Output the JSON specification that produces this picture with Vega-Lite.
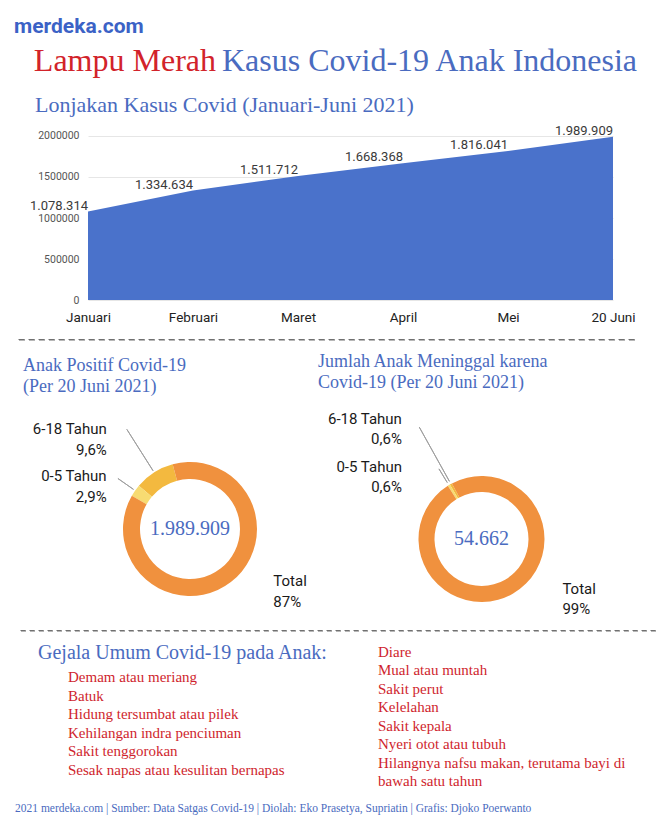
{
  "$schema": "https://vega.github.io/schema/vega-lite/v6.json",
  "background": "white",
  "padding": 0,
  "spacing": 0,
  "config": {
    "view": {"stroke": null},
    "title": {"fontWeight": "normal", "baseline": "alphabetic", "frame": "group"}
  },
  "title": {
    "text": "2021 merdeka.com | Sumber: Data Satgas Covid-19 | Diolah: Eko Prasetya, Supriatin | Grafis: Djoko Poerwanto",
    "orient": "bottom", "anchor": "start", "dx": 15, "offset": 3,
    "font": "Liberation Serif", "fontSize": 11.5, "color": "#4A6BC0"
  },
  "vconcat": [
    {
      "hconcat": [
        {"width": 222, "height": 118,
         "title": {"text": "Lampu Merah", "anchor": "end", "dx": -6, "offset": -78, "font": "Liberation Serif", "fontSize": 32, "color": "#D2232A"},
         "data": {"values": []}, "mark": "point"},
        {"width": 446, "height": 118,
         "title": {"text": "Kasus Covid-19 Anak Indonesia", "anchor": "start", "offset": -78, "font": "Liberation Serif", "fontSize": 32, "color": "#4A6BC0"},
         "data": {"values": []}, "mark": "point"},
        {"width": 1, "height": 118,
         "title": {"text": "merdeka.com", "anchor": "start", "dx": -654, "offset": -37, "font": "Roboto", "fontSize": 21, "fontWeight": "bold", "color": "#3B62C6"},
         "data": {"values": []}, "mark": "point"},
        {"width": 1, "height": 118,
         "title": {"text": "Lonjakan Kasus Covid (Januari-Juni 2021)", "anchor": "start", "dx": -634, "offset": -117, "font": "Liberation Serif", "fontSize": 22, "color": "#4A6BC0"},
         "data": {"values": []}, "mark": "point"}
      ],
      "spacing": 0, "bounds": "flush"
    },
    {
      "hconcat": [
        {"width": 88, "height": 220, "data": {"values": []}, "mark": "point"},
        {
          "width": 525, "height": 182,
          "data": {"values": [
            {"bulan": "Januari", "kasus": 1078314, "label": "1.078.314"},
            {"bulan": "Februari", "kasus": 1334634, "label": "1.334.634"},
            {"bulan": "Maret", "kasus": 1511712, "label": "1.511.712"},
            {"bulan": "April", "kasus": 1668368, "label": "1.668.368"},
            {"bulan": "Mei", "kasus": 1816041, "label": "1.816.041"},
            {"bulan": "20 Juni", "kasus": 1989909, "label": "1.989.909"}
          ]},
          "encoding": {
            "x": {"field": "bulan", "type": "ordinal", "sort": null, "scale": {"type": "point", "padding": 0},
                  "axis": {"title": null, "labelAngle": 0, "ticks": false, "domain": false, "grid": false, "labelFont": "Roboto", "labelFontSize": 13.5, "labelColor": "#222222", "labelPadding": 10}},
            "y": {"field": "kasus", "type": "quantitative", "scale": {"domain": [0, 2219512], "nice": false},
                  "axis": {"title": null, "values": [0, 500000, 1000000, 1500000, 2000000], "format": "d", "ticks": false, "domain": false, "grid": true, "gridColor": "#E6E6E6", "labelFont": "Roboto", "labelFontSize": 10.5, "labelColor": "#555555", "labelPadding": 9}}
          },
          "layer": [
            {"mark": {"type": "area", "color": "#4A72CB", "opacity": 1}},
            {"mark": {"type": "text", "align": "right", "baseline": "alphabetic", "dy": -2, "font": "Roboto", "fontSize": 13, "color": "#3A3A3A"},
             "encoding": {"text": {"field": "label"}}}
          ]
        }
      ],
      "spacing": 0, "bounds": "flush"
    },
    {
      "hconcat": [
        {"width": 18, "height": 73,
         "title": {"text": ["Anak Positif Covid-19", "(Per 20 Juni 2021)"], "anchor": "start", "dx": 23, "offset": -56.5, "font": "Liberation Serif", "fontSize": 18, "lineHeight": 20.5, "color": "#4A6BC0"},
         "data": {"values": []}, "mark": "point"},
        {"width": 618, "height": 0.5, "view": {"stroke": "#707070", "strokeDash": [6, 4], "strokeWidth": 1},
         "title": {"text": ["Jumlah Anak Meninggal karena", "Covid-19 (Per 20 Juni 2021)"], "anchor": "start", "dx": 300, "offset": -52.5, "font": "Liberation Serif", "fontSize": 18, "lineHeight": 20.5, "color": "#4A6BC0"},
         "data": {"values": []}, "mark": "point"}
      ],
      "spacing": 0, "bounds": "flush"
    },
    {
      "hconcat": [
        {
          "width": 380, "height": 140,
          "data": {"values": [
            {"kat": "6-18 Tahun", "persen": 9.6, "urut": 1, "label": "6-18 Tahun\n9,6%"},
            {"kat": "0-5 Tahun", "persen": 2.9, "urut": 2, "label": "0-5 Tahun\n2,9%"},
            {"kat": "Total", "persen": 87, "urut": 3, "label": "Total\n87%"}
          ]},
          "layer": [
            {"mark": {"type": "arc", "outerRadius": 67, "innerRadius": 50},
             "encoding": {
               "theta": {"field": "persen", "type": "quantitative", "stack": true, "scale": {"range": [-0.2618, -6.5450]}},
               "order": {"field": "urut", "type": "quantitative"},
               "color": {"field": "kat", "type": "nominal", "scale": {"domain": ["Total", "0-5 Tahun", "6-18 Tahun"], "range": ["#F0913E", "#F7DB72", "#F3B93F"]}, "legend": null}}},
            {"transform": [{"filter": "datum.kat === '6-18 Tahun'"}],
             "mark": {"type": "arc", "innerRadius": 69, "outerRadius": 118, "padAngle": 3.1416, "fillOpacity": 0, "stroke": "#A0A0A0", "strokeWidth": 1},
             "encoding": {
               "theta": {"field": "persen", "type": "quantitative", "stack": true},
               "order": {"field": "urut", "type": "quantitative"}}},
            {"transform": [{"filter": "datum.kat !== 'Total'"}],
             "mark": {"type": "arc", "innerRadius": 69, "outerRadius": 88, "padAngle": 3.1416, "fillOpacity": 0, "stroke": "#A0A0A0", "strokeWidth": 1},
             "encoding": {
               "theta": {"field": "persen", "type": "quantitative", "stack": true},
               "order": {"field": "urut", "type": "quantitative"},
               "strokeOpacity": {"condition": {"test": "datum.kat === '0-5 Tahun'", "value": 1}, "value": 0}}},
            {"transform": [{"filter": "datum.kat === '6-18 Tahun'"}],
             "mark": {"type": "text", "radius": 118, "align": "right", "baseline": "middle", "dx": -20, "lineBreak": "\n", "lineHeight": 21, "font": "Roboto", "fontSize": 15, "color": "#1A1A1A"},
             "encoding": {
               "theta": {"field": "persen", "type": "quantitative", "stack": true},
               "order": {"field": "urut", "type": "quantitative"},
               "text": {"field": "label"}}},
            {"transform": [{"filter": "datum.kat !== 'Total'"}],
             "mark": {"type": "text", "radius": 92, "align": "right", "baseline": "middle", "dx": -8, "lineBreak": "\n", "lineHeight": 21, "font": "Roboto", "fontSize": 15, "color": "#1A1A1A"},
             "encoding": {
               "theta": {"field": "persen", "type": "quantitative", "stack": true},
               "order": {"field": "urut", "type": "quantitative"},
               "text": {"condition": {"test": "datum.kat === '0-5 Tahun'", "field": "label", "type": "nominal"}, "value": ""}}},
            {"mark": {"type": "text", "radius": 66, "align": "left", "baseline": "middle", "dx": 43, "lineBreak": "\n", "lineHeight": 21, "font": "Roboto", "fontSize": 15, "color": "#1A1A1A"},
             "encoding": {
               "theta": {"field": "persen", "type": "quantitative", "stack": true},
               "order": {"field": "urut", "type": "quantitative"},
               "text": {"condition": {"test": "datum.kat === 'Total'", "field": "label", "type": "nominal"}, "value": ""}}},
            {"data": {"values": [{"jumlah": "1.989.909"}]},
             "mark": {"type": "text", "baseline": "middle", "font": "Liberation Serif", "fontSize": 20, "color": "#4A6BC0"},
             "encoding": {"text": {"field": "jumlah"}}}
          ]
        },
        {
          "width": 203, "height": 160,
          "data": {"values": [
            {"kat": "6-18 Tahun", "persen": 0.6, "urut": 1, "label": "6-18 Tahun\n0,6%"},
            {"kat": "0-5 Tahun", "persen": 0.6, "urut": 2, "label": "0-5 Tahun\n0,6%"},
            {"kat": "Total", "persen": 99, "urut": 3, "label": "Total\n99%"}
          ]},
          "layer": [
            {"mark": {"type": "arc", "outerRadius": 63, "innerRadius": 47},
             "encoding": {
               "theta": {"field": "persen", "type": "quantitative", "stack": true, "scale": {"range": [-0.4887, -6.7719]}},
               "order": {"field": "urut", "type": "quantitative"},
               "color": {"field": "kat", "type": "nominal", "scale": {"domain": ["Total", "0-5 Tahun", "6-18 Tahun"], "range": ["#F0913E", "#F7DB72", "#F3B93F"]}, "legend": null}}},
            {"transform": [{"filter": "datum.kat === '6-18 Tahun'"}],
             "mark": {"type": "arc", "innerRadius": 66, "outerRadius": 128, "padAngle": 3.1416, "fillOpacity": 0, "stroke": "#A0A0A0", "strokeWidth": 1},
             "encoding": {
               "theta": {"field": "persen", "type": "quantitative", "stack": true},
               "order": {"field": "urut", "type": "quantitative"}}},
            {"transform": [{"filter": "datum.kat !== 'Total'"}],
             "mark": {"type": "arc", "innerRadius": 66, "outerRadius": 82, "padAngle": 3.1416, "fillOpacity": 0, "stroke": "#A0A0A0", "strokeWidth": 1},
             "encoding": {
               "theta": {"field": "persen", "type": "quantitative", "stack": true},
               "order": {"field": "urut", "type": "quantitative"},
               "strokeOpacity": {"condition": {"test": "datum.kat === '0-5 Tahun'", "value": 1}, "value": 0}}},
            {"transform": [{"filter": "datum.kat === '6-18 Tahun'"}],
             "mark": {"type": "text", "radius": 137, "align": "right", "baseline": "middle", "dx": -13, "lineBreak": "\n", "lineHeight": 20, "font": "Roboto", "fontSize": 15, "color": "#1A1A1A"},
             "encoding": {
               "theta": {"field": "persen", "type": "quantitative", "stack": true},
               "order": {"field": "urut", "type": "quantitative"},
               "text": {"field": "label"}}},
            {"transform": [{"filter": "datum.kat !== 'Total'"}],
             "mark": {"type": "text", "radius": 84, "align": "right", "baseline": "middle", "dx": -36, "lineBreak": "\n", "lineHeight": 20, "font": "Roboto", "fontSize": 15, "color": "#1A1A1A"},
             "encoding": {
               "theta": {"field": "persen", "type": "quantitative", "stack": true},
               "order": {"field": "urut", "type": "quantitative"},
               "text": {"condition": {"test": "datum.kat === '0-5 Tahun'", "field": "label", "type": "nominal"}, "value": ""}}},
            {"mark": {"type": "text", "radius": 57.5, "align": "left", "baseline": "middle", "dx": 52, "lineBreak": "\n", "lineHeight": 20, "font": "Roboto", "fontSize": 15, "color": "#1A1A1A"},
             "encoding": {
               "theta": {"field": "persen", "type": "quantitative", "stack": true},
               "order": {"field": "urut", "type": "quantitative"},
               "text": {"condition": {"test": "datum.kat === 'Total'", "field": "label", "type": "nominal"}, "value": ""}}},
            {"data": {"values": [{"jumlah": "54.662"}]},
             "mark": {"type": "text", "baseline": "middle", "font": "Liberation Serif", "fontSize": 20, "color": "#4A6BC0"},
             "encoding": {"text": {"field": "jumlah"}}}
          ]
        },
        {"width": 1, "height": 170, "data": {"values": []}, "mark": "point"}
      ],
      "spacing": 0, "bounds": "flush"
    },
    {
      "hconcat": [
        {"width": 20, "height": 1, "data": {"values": []}, "mark": "point"},
        {"width": 637, "height": 0.5, "view": {"stroke": "#707070", "strokeDash": [5, 4], "strokeWidth": 1}, "data": {"values": []}, "mark": "point"}
      ],
      "spacing": 0, "bounds": "flush"
    },
    {
      "hconcat": [
        {"width": 68, "height": 169, "data": {"values": []}, "mark": "point"},
        {
          "width": 310, "height": 169,
          "title": {"text": "Gejala Umum Covid-19 pada Anak:", "anchor": "start", "dx": -30, "offset": -32, "font": "Liberation Serif", "fontSize": 20, "color": "#4A6BC0"},
          "data": {"values": [
            {"no": 1, "kol": "kiri", "gejala": "Demam atau meriang"},
            {"no": 2, "kol": "kiri", "gejala": "Batuk"},
            {"no": 3, "kol": "kiri", "gejala": "Hidung tersumbat atau pilek"},
            {"no": 4, "kol": "kiri", "gejala": "Kehilangan indra penciuman"},
            {"no": 5, "kol": "kiri", "gejala": "Sakit tenggorokan"},
            {"no": 6, "kol": "kiri", "gejala": "Sesak napas atau kesulitan bernapas"}
          ]},
          "mark": {"type": "text", "align": "left", "baseline": "alphabetic", "font": "Liberation Serif", "fontSize": 15, "color": "#CF1F2E"},
          "encoding": {
            "x": {"field": "kol", "type": "nominal", "scale": {"type": "point", "padding": 0, "align": 0}, "axis": null},
            "y": {"field": "no", "type": "quantitative", "scale": {"domain": [-1.757, 7.378], "reverse": true, "nice": false, "zero": false}, "axis": null},
            "text": {"field": "gejala"}
          }
        },
        {
          "width": 270, "height": 169,
          "data": {"values": [
            {"no": 1, "kol": "kanan", "gejala": "Diare"},
            {"no": 2, "kol": "kanan", "gejala": "Mual atau muntah"},
            {"no": 3, "kol": "kanan", "gejala": "Sakit perut"},
            {"no": 4, "kol": "kanan", "gejala": "Kelelahan"},
            {"no": 5, "kol": "kanan", "gejala": "Sakit kepala"},
            {"no": 6, "kol": "kanan", "gejala": "Nyeri otot atau tubuh"},
            {"no": 7, "kol": "kanan", "gejala": "Hilangnya nafsu makan, terutama bayi di\nbawah satu tahun"}
          ]},
          "mark": {"type": "text", "align": "left", "baseline": "alphabetic", "lineBreak": "\n", "lineHeight": 18.5, "font": "Liberation Serif", "fontSize": 15, "color": "#CF1F2E"},
          "encoding": {
            "x": {"field": "kol", "type": "nominal", "scale": {"type": "point", "padding": 0, "align": 0}, "axis": null},
            "y": {"field": "no", "type": "quantitative", "scale": {"domain": [-0.405, 8.73], "reverse": true, "nice": false, "zero": false}, "axis": null},
            "text": {"field": "gejala"}
          }
        }
      ],
      "spacing": 0, "bounds": "flush"
    }
  ]
}
